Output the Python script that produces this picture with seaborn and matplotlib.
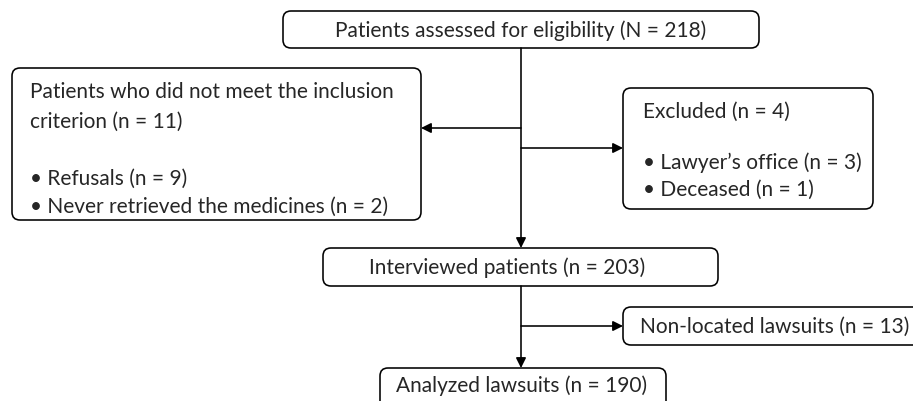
import matplotlib
matplotlib.use('Agg')
from matplotlib import pyplot as plt
from matplotlib.patches import FancyBboxPatch
import seaborn as sns

sns.set_theme(style='white')
plt.rcParams['font.family'] = ['Lato', 'DejaVu Sans']

# flow numbers
total_n = 218
not_met_n = 11
refusals_n = 9
never_retrieved_n = 2
excluded_n = 4
lawyer_n = 3
deceased_n = 1
interviewed_n = 203
non_located_n = 13
analyzed_n = 190

# boxes in pixel coords: x0, y0, x1, y1 (y grows downward)
boxes = {
    'top': (283, 12, 759, 49),
    'left': (12, 69, 421, 221),
    'right': (623, 89, 873, 210),
    'interviewed': (323, 249, 718, 287),
    'nonloc': (623, 308, 945, 346),
    'analyzed': (380, 369, 666, 412),
}

fig = plt.figure(figsize=(9.13, 4.02), dpi=100)
ax = fig.add_axes([0, 0, 1, 1])
ax.set_xlim(0, 913)
ax.set_ylim(402, 0)
ax.axis('off')

for name, (x0, y0, x1, y1) in boxes.items():
    ax.add_patch(FancyBboxPatch((x0, y0), x1 - x0, y1 - y0,
                                boxstyle='round,pad=0,rounding_size=8',
                                fc='white', ec='black', lw=1.15))

fs = 15
main_x = 521


def arrow(x0, y0, x1, y1):
    ax.annotate('', xy=(x1, y1), xytext=(x0, y0),
                arrowprops=dict(arrowstyle='-|>', color='black', lw=1.15,
                                mutation_scale=15, shrinkA=0, shrinkB=0))


# connectors
arrow(main_x, 49, main_x, 249)
arrow(main_x, 129, 421, 129)
arrow(main_x, 149, 623, 149)
arrow(main_x, 287, main_x, 369)
arrow(main_x, 327, 623, 327)

# texts
ax.text(521, 31, f'Patients assessed for eligibility (N = {total_n})',
        ha='center', va='center', fontsize=fs)

ax.text(30, 92, 'Patients who did not meet the inclusion', ha='left', va='center', fontsize=fs)
ax.text(30, 122, f'criterion (n = {not_met_n})', ha='left', va='center', fontsize=fs)
ax.text(30, 179, f'\u2022 Refusals (n = {refusals_n})', ha='left', va='center', fontsize=fs)
ax.text(30, 207, f'\u2022 Never retrieved the medicines (n = {never_retrieved_n})',
        ha='left', va='center', fontsize=fs)

ax.text(643, 112, f'Excluded (n = {excluded_n})', ha='left', va='center', fontsize=fs)
ax.text(643, 163, f'\u2022 Lawyer\u2019s office (n = {lawyer_n})', ha='left', va='center', fontsize=fs)
ax.text(643, 190, f'\u2022 Deceased (n = {deceased_n})', ha='left', va='center', fontsize=fs)

ax.text(507, 268, f'Interviewed patients (n = {interviewed_n})', ha='center', va='center', fontsize=fs)
ax.text(640, 327, f'Non-located lawsuits (n = {non_located_n})', ha='left', va='center', fontsize=fs)
ax.text(522, 386, f'Analyzed lawsuits (n = {analyzed_n})', ha='center', va='center', fontsize=fs)

plt.savefig('out.png', dpi=100)
